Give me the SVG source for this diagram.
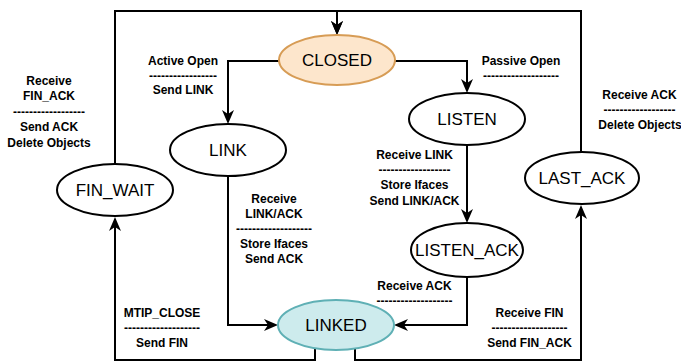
<svg xmlns="http://www.w3.org/2000/svg" width="681" height="361" viewBox="0 0 681 361">
<style>
.node{fill:#ffffff;stroke:#000000;stroke-width:2}
.nt{font-family:"Liberation Sans",Arial,sans-serif;font-size:17px;text-anchor:middle;fill:#000}
.lb{font-family:"Liberation Sans",Arial,sans-serif;font-size:12px;font-weight:bold;text-anchor:middle;fill:#000}
.edge{fill:none;stroke:#000;stroke-width:2}
</style>
<defs>
<marker id="arr" viewBox="0 0 14 12" refX="11" refY="6" markerWidth="14" markerHeight="12" markerUnits="userSpaceOnUse" orient="auto">
<path d="M0,0 L14,6 L0,12 L4,6 Z" fill="#000"/>
</marker>
</defs>
<rect width="681" height="361" fill="#ffffff"/>
<g id="connectors">
<path class="edge" d="M115,164 V11 H337 V32" marker-end="url(#arr)"/>
<path class="edge" d="M581,152 V11 H337 V32" marker-end="url(#arr)"/>
<path class="edge" d="M279,61 H228 V121" marker-end="url(#arr)"/>
<path class="edge" d="M395,61 H467 V90" marker-end="url(#arr)"/>
<path class="edge" d="M467,146 V220" marker-end="url(#arr)"/>
<path class="edge" d="M467,277 V325 H397" marker-end="url(#arr)"/>
<path class="edge" d="M228,176 V325 H275" marker-end="url(#arr)"/>
<path class="edge" d="M315,348 V360 H115 V220" marker-end="url(#arr)"/>
<path class="edge" d="M355,349 V360 H581 V208" marker-end="url(#arr)"/>
</g>
<g id="closed">
<ellipse cx="337" cy="60" rx="58" ry="25" fill="#fde6cc" stroke="#d79c55" stroke-width="2"/>
<text class="nt" x="337" y="66">CLOSED</text>
</g>
<g id="link">
<ellipse class="node" cx="228" cy="150" rx="58" ry="26"/>
<text class="nt" x="228" y="156">LINK</text>
</g>
<g id="listen">
<ellipse class="node" cx="467" cy="119" rx="58" ry="26"/>
<text class="nt" x="467" y="125">LISTEN</text>
</g>
<g id="fin_wait">
<ellipse class="node" cx="115" cy="190" rx="58" ry="26"/>
<text class="nt" x="115" y="196">FIN_WAIT</text>
</g>
<g id="last_ack">
<ellipse class="node" cx="582" cy="178" rx="57" ry="26"/>
<text class="nt" x="582" y="184">LAST_ACK</text>
</g>
<g id="listen_ack">
<ellipse class="node" cx="467" cy="250" rx="56" ry="27"/>
<text class="nt" x="467" y="256">LISTEN_ACK</text>
</g>
<g id="linked">
<ellipse cx="336" cy="325" rx="58" ry="25" fill="#cdebed" stroke="#5fb0b5" stroke-width="2"/>
<text class="nt" x="336" y="331">LINKED</text>
</g>
<g id="labels">
<text class="lb" x="183" y="65">Active Open</text>
<text class="lb" x="183" y="80">-----------------</text>
<text class="lb" x="183" y="94">Send LINK</text>
<text class="lb" x="49" y="84.5">Receive</text>
<text class="lb" x="49" y="100">FIN_ACK</text>
<text class="lb" x="49" y="115.5">------------------</text>
<text class="lb" x="49" y="131">Send ACK</text>
<text class="lb" x="49" y="146.5">Delete Objects</text>
<text class="lb" x="521" y="65">Passive Open</text>
<text class="lb" x="521" y="80">-------------------</text>
<text class="lb" x="639.5" y="99">Receive ACK</text>
<text class="lb" x="639.5" y="114">------------------</text>
<text class="lb" x="640" y="129">Delete Objects</text>
<text class="lb" x="414.5" y="159">Receive LINK</text>
<text class="lb" x="414.5" y="174">------------------</text>
<text class="lb" x="414.5" y="189">Store Ifaces</text>
<text class="lb" x="414.5" y="205">Send LINK/ACK</text>
<text class="lb" x="274" y="203">Receive</text>
<text class="lb" x="274" y="218">LINK/ACK</text>
<text class="lb" x="274" y="233">-------------------</text>
<text class="lb" x="274" y="248">Store Ifaces</text>
<text class="lb" x="274" y="263">Send ACK</text>
<text class="lb" x="162" y="317">MTIP_CLOSE</text>
<text class="lb" x="162" y="332">-------------------</text>
<text class="lb" x="162" y="347">Send FIN</text>
<text class="lb" x="414.5" y="290">Receive ACK</text>
<text class="lb" x="414.5" y="305">-------------------</text>
<text class="lb" x="529.5" y="317">Receive FIN</text>
<text class="lb" x="529.5" y="332">-------------------</text>
<text class="lb" x="529.5" y="347">Send FIN_ACK</text>
</g>
</svg>
